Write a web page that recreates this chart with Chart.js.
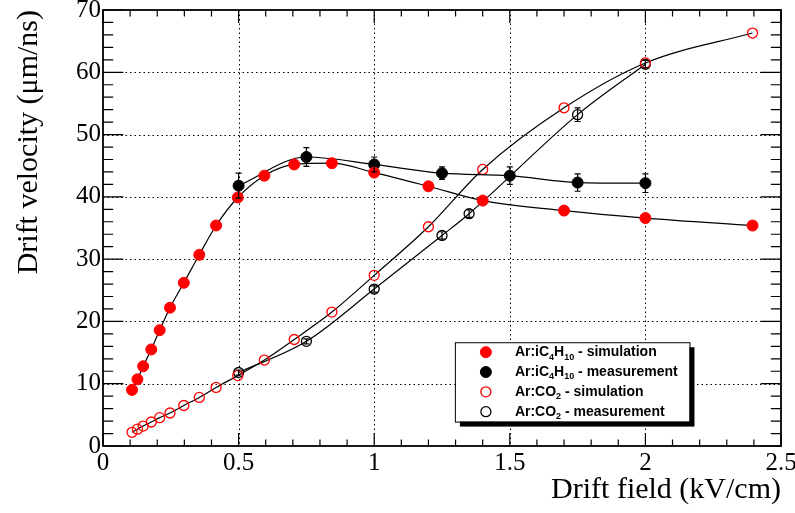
<!DOCTYPE html>
<html>
<head>
<meta charset="utf-8">
<script src="https://cdn.jsdelivr.net/npm/chart.js@4.4.0/dist/chart.umd.min.js"></script>
<style>
    html, body { margin: 0; padding: 0; background: #fff; }
    #wrap { width: 795px; height: 513px; }
</style>
</head>
<body>
<div id="wrap"><canvas id="driftChart" width="795" height="513"></canvas></div>
<script>
// --- Data ---
const simField = [0.107, 0.127, 0.148, 0.178, 0.209, 0.247, 0.298, 0.355, 0.417, 0.497, 0.595, 0.705, 0.844, 1.0, 1.2, 1.4, 1.7, 2.0, 2.395];
const simIsoVel = [9.0, 10.7, 12.8, 15.5, 18.6, 22.2, 26.2, 30.7, 35.4, 39.9, 43.4, 45.2, 45.4, 43.9, 41.7, 39.4, 37.8, 36.6, 35.4];
const simCo2Vel = [2.2, 2.7, 3.2, 3.85, 4.55, 5.3, 6.5, 7.8, 9.4, 11.3, 13.8, 17.1, 21.5, 27.4, 35.2, 44.4, 54.3, 61.5, 66.3];

const measIsoField = [0.5, 0.75, 1.0, 1.25, 1.5, 1.75, 2.0];
const measIsoVel = [41.8, 46.4, 45.2, 43.8, 43.4, 42.3, 42.2];
const measIsoErr = [2.0, 1.5, 1.2, 1.0, 1.4, 1.4, 1.5];

const measCo2Field = [0.5, 0.75, 1.0, 1.25, 1.35, 1.75, 2.0];
const measCo2Vel = [11.8, 16.8, 25.2, 33.8, 37.3, 53.2, 61.3];
const measCo2Err = [0.4, 0.4, 0.5, 0.6, 0.6, 1.1, 0.6];

const xTickValues = [0, 0.5, 1, 1.5, 2, 2.5];
const yTickValues = [0, 10, 20, 30, 40, 50, 60, 70];

const xTitle = 'Drift field (kV/cm)';
const yTitle = 'Drift velocity (\u03bcm/ns)';

// legend entries, split in normal / subscript pieces
const legendEntries = [
    [['Ar:iC', 0], ['4', 1], ['H', 0], ['10', 1], [' - simulation', 0]],
    [['Ar:iC', 0], ['4', 1], ['H', 0], ['10', 1], [' - measurement', 0]],
    [['Ar:CO', 0], ['2', 1], [' - simulation', 0]],
    [['Ar:CO', 0], ['2', 1], [' - measurement', 0]]
];

// --- Helpers ---
function toPoints(xs, ys) {
    return xs.map((v, i) => ({ x: v, y: ys[i] }));
}

const SERIF = '"Liberation Serif", "Times New Roman", serif';
const SANS = '"Liberation Sans", Arial, sans-serif';

const markerStyles = [
    { fill: '#ff0000', stroke: '#ff0000', open: false },
    { fill: '#000000', stroke: '#000000', open: false },
    { fill: 'rgba(0,0,0,0)', stroke: '#ff0000', open: true },
    { fill: 'rgba(0,0,0,0)', stroke: '#000000', open: true }
];

function makeDataset(label, points, style, errors) {
    return {
        label: label,
        data: points,
        errors: errors || null,
        showLine: true,
        borderColor: '#000',
        borderWidth: 1.2,
        cubicInterpolationMode: 'monotone',
        pointRadius: style.open ? 5 : 5.5,
        pointBorderWidth: style.open ? 1.3 : 1,
        pointBackgroundColor: style.fill,
        pointBorderColor: style.stroke
    };
}

// --- Plugins: ROOT-like frame, grid, error bars, legend ---
const frameGrid = {
    id: 'frameGrid',
    beforeDatasetsDraw(chart) {
        const { ctx, chartArea: a, scales: { x, y } } = chart;
        ctx.save();
        ctx.strokeStyle = '#000';
        ctx.lineWidth = 1;
        ctx.setLineDash([1.5, 3]);
        xTickValues.slice(1, -1).forEach(v => {
            const px = Math.round(x.getPixelForValue(v)) + 0.5;
            ctx.beginPath(); ctx.moveTo(px, a.top); ctx.lineTo(px, a.bottom); ctx.stroke();
        });
        yTickValues.slice(1, -1).forEach(v => {
            const py = Math.round(y.getPixelForValue(v)) + 0.5;
            ctx.beginPath(); ctx.moveTo(a.left, py); ctx.lineTo(a.right, py); ctx.stroke();
        });
        ctx.restore();
    },
    afterDatasetsDraw(chart) {
        const { ctx, chartArea: a, scales: { x, y } } = chart;
        const h = a.bottom - a.top, w = a.right - a.left;
        const xMajorLen = 0.03 * h, yMajorLen = 0.03 * w;
        ctx.save();
        ctx.strokeStyle = '#000';
        ctx.lineWidth = 1.2;
        // x ticks (major every 0.5, minor every 0.1), bottom and top, inward
        for (let i = 0; i <= 25; i++) {
            const v = i / 10;
            const len = (i % 5 === 0) ? xMajorLen : xMajorLen / 2;
            const px = x.getPixelForValue(v);
            ctx.beginPath();
            ctx.moveTo(px, a.bottom); ctx.lineTo(px, a.bottom - len);
            ctx.moveTo(px, a.top); ctx.lineTo(px, a.top + len);
            ctx.stroke();
        }
        // y ticks (major every 10, minor every 2), left and right, inward
        for (let i = 0; i <= 35; i++) {
            const v = i * 2;
            const len = (i % 5 === 0) ? yMajorLen : yMajorLen / 2;
            const py = y.getPixelForValue(v);
            ctx.beginPath();
            ctx.moveTo(a.left, py); ctx.lineTo(a.left + len, py);
            ctx.moveTo(a.right, py); ctx.lineTo(a.right - len, py);
            ctx.stroke();
        }
        ctx.lineWidth = 1.8;
        ctx.strokeRect(a.left, a.top, w, h);

        // error bars
        ctx.lineWidth = 1.2;
        chart.data.datasets.forEach(ds => {
            if (!ds.errors) return;
            ds.data.forEach((p, i) => {
                const px = x.getPixelForValue(p.x);
                const top = y.getPixelForValue(p.y + ds.errors[i]);
                const bot = y.getPixelForValue(p.y - ds.errors[i]);
                ctx.beginPath();
                ctx.moveTo(px, top); ctx.lineTo(px, bot);
                ctx.moveTo(px - 3, top); ctx.lineTo(px + 3, top);
                ctx.moveTo(px - 3, bot); ctx.lineTo(px + 3, bot);
                ctx.stroke();
            });
        });
        ctx.restore();
    }
};

const rootLegend = {
    id: 'rootLegend',
    afterDraw(chart) {
        const { ctx, chartArea: a } = chart;
        const w = a.right - a.left, h = a.bottom - a.top;
        const bx = a.left + 0.519 * w, by = a.top + 0.762 * h;
        const bw = 0.346 * w, bh = 0.182 * h;
        ctx.save();
        // shadow
        ctx.fillStyle = '#000';
        ctx.fillRect(bx + 5, by + 5, bw, bh);
        ctx.fillStyle = '#fff';
        ctx.fillRect(bx, by, bw, bh);
        ctx.strokeStyle = '#000';
        ctx.lineWidth = 1;
        ctx.strokeRect(bx + 0.5, by + 0.5, bw, bh);

        const rowH = bh / legendEntries.length;
        legendEntries.forEach((parts, i) => {
            const cy = by + rowH * (i + 0.5);
            const st = markerStyles[i];
            ctx.beginPath();
            ctx.arc(bx + 31, cy, st.open ? 5 : 5.5, 0, Math.PI * 2);
            if (!st.open) { ctx.fillStyle = st.fill; ctx.fill(); }
            ctx.strokeStyle = st.stroke;
            ctx.lineWidth = st.open ? 1.3 : 1;
            ctx.stroke();

            let tx = bx + 60;
            ctx.fillStyle = '#000';
            ctx.textBaseline = 'middle';
            parts.forEach(([t, sub]) => {
                ctx.font = sub ? 'bold 9px ' + SANS : 'bold 14px ' + SANS;
                ctx.fillText(t, tx, sub ? cy + 5 : cy);
                tx += ctx.measureText(t).width;
            });
        });
        ctx.restore();
    }
};

// --- Chart ---
const ctx = document.getElementById('driftChart').getContext('2d');
const driftChart = new Chart(ctx, {
    type: 'scatter',
    data: {
        datasets: [
            makeDataset('Ar:iC4H10 - simulation', toPoints(simField, simIsoVel), markerStyles[0]),
            makeDataset('Ar:iC4H10 - measurement', toPoints(measIsoField, measIsoVel), markerStyles[1], measIsoErr),
            makeDataset('Ar:CO2 - simulation', toPoints(simField, simCo2Vel), markerStyles[2]),
            makeDataset('Ar:CO2 - measurement', toPoints(measCo2Field, measCo2Vel), markerStyles[3], measCo2Err)
        ]
    },
    options: {
        responsive: false,
        animation: false,
        layout: { padding: { left: 0, right: 14, top: 10, bottom: 0 } },
        plugins: { legend: { display: false }, tooltip: { enabled: false } },
        scales: {
            x: {
                type: 'linear', min: 0, max: 2.5,
                afterBuildTicks: scale => { scale.ticks = xTickValues.map(v => ({ value: v })); },
                afterFit: scale => {
                    scale.height = 67;
                    scale.paddingLeft = 0; scale.paddingRight = 0;
                },
                ticks: {
                    color: '#000', padding: 2, font: { family: SERIF, size: 25 },
                    callback: v => String(v)
                },
                grid: { display: false, drawTicks: false },
                border: { display: false },
                title: {
                    display: true, text: xTitle, align: 'end', color: '#000',
                    font: { family: SERIF, size: 30, lineHeight: 1.2 },
                    padding: { top: 5, bottom: 5 }
                }
            },
            y: {
                type: 'linear', min: 0, max: 70,
                afterBuildTicks: scale => { scale.ticks = yTickValues.map(v => ({ value: v })); },
                afterFit: scale => {
                    scale.width = 103;
                    scale.paddingTop = 0; scale.paddingBottom = 0;
                },
                ticks: {
                    color: '#000', padding: 2, font: { family: SERIF, size: 25 },
                    callback: v => String(v)
                },
                grid: { display: false, drawTicks: false },
                border: { display: false },
                title: {
                    display: true, text: yTitle, align: 'end', color: '#000',
                    font: { family: SERIF, size: 30, lineHeight: 1.2 },
                    padding: { top: 11, bottom: 0 }
                }
            }
        }
    },
    plugins: [frameGrid, rootLegend]
});
</script>
</body>
</html>
